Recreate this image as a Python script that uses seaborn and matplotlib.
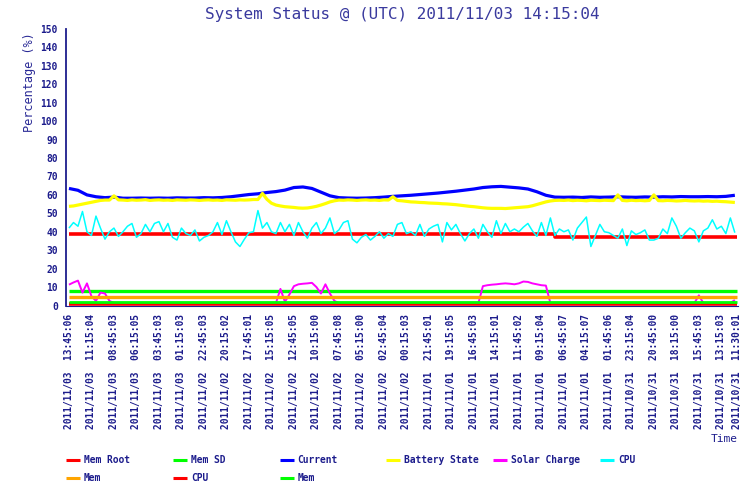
import numpy as np
import pandas as pd
import matplotlib
matplotlib.use('Agg')
import matplotlib.pyplot as plt
import seaborn as sns
from matplotlib.lines import Line2D
from matplotlib.ticker import MultipleLocator

# x tick labels (most recent sample on the left)
tick_labels = [
    '2011/11/03  13:45:06', '2011/11/03  11:15:04', '2011/11/03  08:45:03',
    '2011/11/03  06:15:05', '2011/11/03  03:45:03', '2011/11/03  01:15:03',
    '2011/11/02  22:45:03', '2011/11/02  20:15:02', '2011/11/02  17:45:01',
    '2011/11/02  15:15:05', '2011/11/02  12:45:05', '2011/11/02  10:15:00',
    '2011/11/02  07:45:08', '2011/11/02  05:15:00', '2011/11/02  02:45:04',
    '2011/11/02  00:15:03', '2011/11/01  21:45:01', '2011/11/01  19:15:05',
    '2011/11/01  16:45:03', '2011/11/01  14:15:01', '2011/11/01  11:45:02',
    '2011/11/01  09:15:04', '2011/11/01  06:45:07', '2011/11/01  04:15:07',
    '2011/11/01  01:45:06', '2011/10/31  23:15:04', '2011/10/31  20:45:00',
    '2011/10/31  18:15:00', '2011/10/31  15:45:03', '2011/10/31  13:15:03',
    '2011/10/31  11:30:01',
]

# hours back from the latest sample
hours_1h = np.arange(75)
hours_30m = np.arange(149) * 0.5

current = [
    63.5, 62.5, 60.0, 59.0, 58.5, 58.8, 58.2, 58.2, 58.3, 58.2,
    58.3, 58.2, 58.4, 58.3, 58.3, 58.5, 58.4, 58.6, 59.0, 59.6,
    60.2, 60.6, 61.3, 61.8, 62.6, 64.0, 64.3, 63.5, 61.5, 59.5,
    58.5, 58.3, 58.2, 58.3, 58.5, 58.8, 59.2, 59.5, 59.8, 60.2,
    60.6, 61.0, 61.5, 62.0, 62.6, 63.2, 64.0, 64.4, 64.6, 64.2,
    63.8, 63.2, 61.7, 59.8, 58.8, 58.7, 58.8, 58.6, 58.9, 58.7,
    58.8, 59.0, 58.8, 58.7, 58.9, 58.8, 59.0, 58.9, 59.1, 59.0,
    59.0, 59.1, 59.0, 59.2, 59.8,
]

battery = [
    53.8, 54.0, 54.5, 55.0, 55.5, 56.0, 56.5, 57.0, 57.2, 57.2,
    59.5, 57.3, 57.2, 57.0, 57.3, 57.1, 57.2, 57.4, 57.0, 57.2,
    57.3, 57.1, 57.2, 57.0, 57.3, 57.2, 57.1, 57.3, 57.2, 57.0,
    57.2, 57.3, 57.1, 57.2, 57.0, 57.3, 57.2, 57.1, 57.3, 57.2,
    57.3, 57.5, 57.5, 60.8, 57.6, 55.5, 54.5, 54.0, 53.6, 53.4,
    53.2, 52.9, 52.8, 52.9, 53.3, 53.8, 54.5, 55.3, 56.2, 56.8,
    57.2, 57.1, 57.3, 57.2, 57.0, 57.2, 57.3, 57.1, 57.2, 57.0,
    57.3, 57.2, 59.0, 57.0, 56.8, 56.5, 56.2, 56.1, 55.9, 55.8,
    55.6, 55.5, 55.4, 55.2, 55.1, 54.9, 54.7, 54.4, 54.1, 53.8,
    53.6, 53.3, 53.0, 52.8, 52.7, 52.7, 52.7, 52.6, 52.8, 53.0,
    53.2, 53.4, 53.6, 54.1, 54.8, 55.5, 56.2, 56.7, 57.0, 57.1,
    57.0, 57.2, 56.9, 57.1, 57.0, 56.8, 57.1, 57.0, 56.9, 57.1,
    57.0, 56.9, 60.0, 57.0, 56.8, 57.1, 56.9, 57.0, 56.8, 57.0,
    60.0, 56.9, 56.8, 57.0, 56.9, 56.7, 56.8, 57.0, 56.8, 56.7,
    56.8, 56.6, 56.7, 56.5, 56.6, 56.4, 56.3, 56.1, 55.9,
]

solar = [
    11.3, 12.5, 13.5, 7.0, 12.0, 5.0, 2.5, 7.0, 6.5, 2.5,
    1.3, 1.3, 1.3, 1.3, 1.3, 1.3, 1.3, 1.3, 1.3, 1.3,
    1.3, 1.3, 1.3, 1.3, 1.3, 1.3, 1.3, 1.3, 1.3, 1.3,
    1.3, 1.3, 1.3, 1.3, 1.3, 1.3, 1.3, 1.3, 1.3, 1.3,
    1.3, 1.3, 1.3, 1.3, 1.3, 1.3, 1.3, 9.0, 2.0, 6.0,
    10.5, 11.5, 11.8, 12.0, 12.3, 10.0, 6.5, 11.5, 6.5, 2.5,
    1.3, 1.3, 1.3, 1.3, 1.3, 1.3, 1.3, 1.3, 1.3, 1.3,
    1.3, 1.3, 1.3, 1.3, 1.3, 1.3, 1.3, 1.3, 1.3, 1.3,
    1.3, 1.3, 1.3, 1.3, 1.3, 1.3, 1.3, 1.3, 1.3, 1.3,
    1.3, 1.3, 10.5, 11.0, 11.3, 11.5, 11.8, 12.0, 11.8, 11.5,
    12.0, 13.0, 12.8, 12.0, 11.5, 11.0, 10.8, 1.3, 1.3, 1.3,
    1.3, 1.3, 1.3, 1.3, 1.3, 1.3, 1.3, 1.3, 1.3, 1.3,
    1.3, 1.3, 1.3, 1.3, 1.3, 1.3, 1.3, 1.3, 1.3, 1.3,
    1.3, 1.3, 1.3, 1.3, 1.3, 1.3, 1.3, 1.3, 1.3, 1.3,
    5.5, 1.3, 1.3, 1.3, 1.3, 1.3, 1.3, 1.3, 3.0,
]

cpu = [
    42, 45, 43, 51, 40, 38, 48.5, 42, 36, 40,
    42, 37.5, 40, 43, 44.5, 37, 39, 44, 40, 44.5,
    45.5, 40, 44.5, 37, 35.5, 42, 39, 38, 41, 35,
    37, 38, 40, 45, 38.5, 46, 40, 34.5, 32, 36,
    39.5, 40, 51.5, 42, 45, 40, 39, 45, 40, 44,
    38, 45, 40, 36.5, 42, 45, 39, 42, 47.5, 39,
    41, 45, 46, 36, 34, 37, 38.5, 35.5, 37.5, 40,
    36.5, 39, 37.5, 44, 45, 39, 40, 38, 44, 37.5,
    41.5, 43, 44, 34.5, 45, 41, 44, 39, 35, 39,
    41.5, 36.5, 44, 40, 37, 46, 39, 44.5, 40, 41.5,
    40, 42.5, 44.5, 40.5, 37.5, 45, 38, 47.5, 38, 41.5,
    40, 41, 35.5, 42, 45, 48, 32, 38, 44, 40,
    39.5, 38, 36.5, 41.5, 32.5, 40.5, 38.5, 39.5, 41, 35.5,
    35.5, 36.5, 41.5, 39, 47.5, 43, 36.5, 39.5, 42, 40.5,
    34.5, 40.5, 42, 46.5, 41.5, 43, 39, 47.5, 39.5,
]

# near-constant series
mem_root_hours = [0, 54, 54, 74.25]
mem_root = [38.7, 38.7, 37.3, 37.3]
band_hours = [0, 74.25]
mem_sd = [8.1, 8.1]
mem = [4.5, 4.5]
cpu_low = [0.6, 0.6]
mem_low = [2.0, 2.0]

navy = '#1c1c8c'
mono = ['DejaVu Sans Mono', 'DejaVu Sans']

sns.set_style('white')
plt.rcParams['font.family'] = mono

fig = plt.figure(figsize=(7.46, 4.84), dpi=100)
ax = fig.add_axes([66 / 746, 1 - 305.5 / 484, 672 / 746, 276.5 / 484])

series = [
    ('Mem Root', mem_root_hours, mem_root, '#ff0000', 2.6),
    ('Mem SD', band_hours, mem_sd, '#00ff00', 2.4),
    ('Current', hours_1h, current, '#0000ff', 2.3),
    ('Battery State', hours_30m, battery, '#ffff00', 2.3),
    ('Solar Charge', hours_30m, solar, '#ff00ff', 1.4),
    ('CPU', hours_30m, cpu, '#00ffff', 1.1),
    ('Mem', band_hours, mem, '#ffa500', 2.4),
    ('CPU', band_hours, cpu_low, '#ff0000', 2.6),
    ('Mem', band_hours, mem_low, '#00ff00', 2.0),
]

for name, xs, ys, color, lw in series:
    df = pd.DataFrame({'hours': xs, 'value': ys})
    sns.lineplot(data=df, x='hours', y='value', color=color, lw=lw,
                 estimator=None, sort=False, ax=ax, legend=False,
                 solid_capstyle='butt')

# x ticks from the label timestamps
stamps = pd.to_datetime(tick_labels, format='%Y/%m/%d  %H:%M:%S')
tick_pos = (stamps[0] - stamps).total_seconds() / 3600
ax.set_xticks(tick_pos)
ax.set_xticklabels(tick_labels, rotation=90, fontsize=6.9,
                   fontweight='bold', color=navy, va='top')
ax.tick_params(axis='x', length=0, pad=6)

ax.set_xlim(-0.33, 74.35)
ax.set_ylim(0, 150)
ax.yaxis.set_major_locator(MultipleLocator(10))
ax.yaxis.set_minor_locator(MultipleLocator(5))
ax.tick_params(axis='y', which='both', direction='out', length=4,
               width=1, color=navy, labelcolor=navy, labelsize=6.9, pad=2)
for lab in ax.get_yticklabels():
    lab.set_fontweight('bold')

ax.set_xlabel('')
ax.set_ylabel('')
for side in ['top', 'right']:
    ax.spines[side].set_visible(False)
ax.spines['left'].set_color(navy)
ax.spines['left'].set_linewidth(1.3)
ax.spines['bottom'].set_color(navy)
ax.spines['bottom'].set_linewidth(0.8)

fig.text(402 / 746, 1 - 15 / 484, 'System Status @ (UTC) 2011/11/03 14:15:04',
         ha='center', va='center', fontsize=11.5, color='#3a3a9e')
fig.text(30 / 746, 1 - 82 / 484, 'Percentage (%)', rotation=90,
         ha='center', va='center', fontsize=8.6, color='#2a2a96')
fig.text(738 / 746, 1 - 439 / 484, 'Time', ha='right', va='center',
         fontsize=8.1, color=navy)

# legend laid out in a fixed grid like the original
legend_cells = [(0, 0), (0, 1), (0, 2), (0, 3), (0, 4), (0, 5),
                (1, 0), (1, 1), (1, 2)]
for (row, col), (name, _, _, color, _) in zip(legend_cells, series):
    x0 = 66 + col * 106.8
    y0 = 460 + row * 18
    fig.add_artist(Line2D([x0 / 746, (x0 + 14) / 746],
                          [1 - y0 / 484, 1 - y0 / 484],
                          color=color, lw=2.2, solid_capstyle='butt'))
    fig.text((x0 + 18) / 746, 1 - y0 / 484, name, ha='left', va='center',
             fontsize=6.9, fontweight='bold', color=navy)

fig.savefig('out.png', dpi=100)
